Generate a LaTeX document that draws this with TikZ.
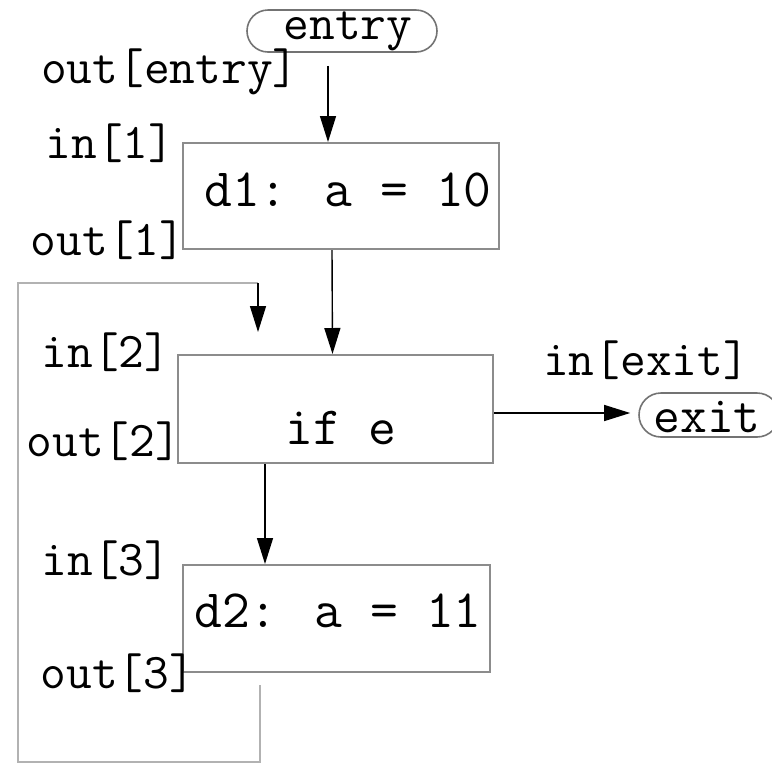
\documentclass[tikz,border=0pt]{standalone}
\usetikzlibrary{arrows.meta,calc,shapes.misc}
\begin{document}
\begin{tikzpicture}[x=0.5pt,y=-0.5pt,
  block/.style={draw=black!45,line width=1pt,rectangle,inner sep=0pt},
  term/.style={draw=black!55,line width=0.8pt,rounded rectangle,inner sep=0pt},
  code/.style={font=\ttfamily\fontsize{27}{30}\selectfont,inner sep=0pt},
  tag/.style={font=\ttfamily\fontsize{25}{28}\selectfont,inner sep=0pt},
  flow/.style={draw=black,line width=0.7pt,-{Triangle[length=13pt,width=8pt]}},
  back/.style={draw=black!30,line width=1.4pt}]
\useasboundingbox (0,0) rectangle (772,762);

% terminal nodes
\node[term,minimum width=95pt,minimum height=21pt] (entry) at (342,31) {};
\node[tag] (entrytxt) at (348,31) {entry};
\node[term,minimum width=70pt,minimum height=22pt] (exit) at (709,415) {};
\node[code,font=\ttfamily\fontsize{26}{29}\selectfont] (exittxt) at (707,417) {exit};

% statement blocks
\node[block,minimum width=158pt,minimum height=53pt] (d1) at (341,196) {};
\node[code] (d1txt) at (348,190) {d1: a = 10};
\node[block,minimum width=157.5pt,minimum height=54pt] (cond) at (335.5,409) {};
\node[code] (condtxt) at (341,428) {if e};
\node[block,minimum width=153.5pt,minimum height=53.5pt] (d2) at (336.5,618.5) {};
\node[code] (d2txt) at (338,611) {d2: a = 11};

% in/out labels
\node[tag] (oentry) at (170,72) {out[entry]};
\node[tag] (in1) at (110,143) {in[1]};
\node[tag] (out1) at (108,240) {out[1]};
\node[tag] (in2) at (106,352) {in[2]};
\node[tag] (out2) at (104,441) {out[2]};
\node[tag] (in3) at (106,560) {in[3]};
\node[tag] (out3) at (118,673) {out[3]};
\node[tag] (inexit) at (646,360) {in[exit]};

% forward edges
\draw[flow] ($(entry.south)+(-14,13)$) -- ($(d1.north)+(-13,0)$);
\draw[flow] ($(d1.south)+(-9,0)$) -- ($(cond.north)+(-3,0)$);
\draw[flow] ($(cond.south)+(-70.5,0)$) -- ($(d2.north)+(-71.5,0)$);
\draw[flow] (cond.east) ++(0,4) -- ($(exit.west)+(-8,-2)$);

% back edge from d2 to the condition
\coordinate (b1) at (260,685);
\coordinate (b2) at (260,762);
\coordinate (b3) at (18,762);
\coordinate (b4) at (18,283);
\coordinate (b5) at (258,283);
\draw[back] (b1) -- (b2) -- (b3) -- (b4) -- (b5);
\draw[flow] (b5) -- ($(cond.north)+(-77.5,-22)$);
\end{tikzpicture}
\end{document}
